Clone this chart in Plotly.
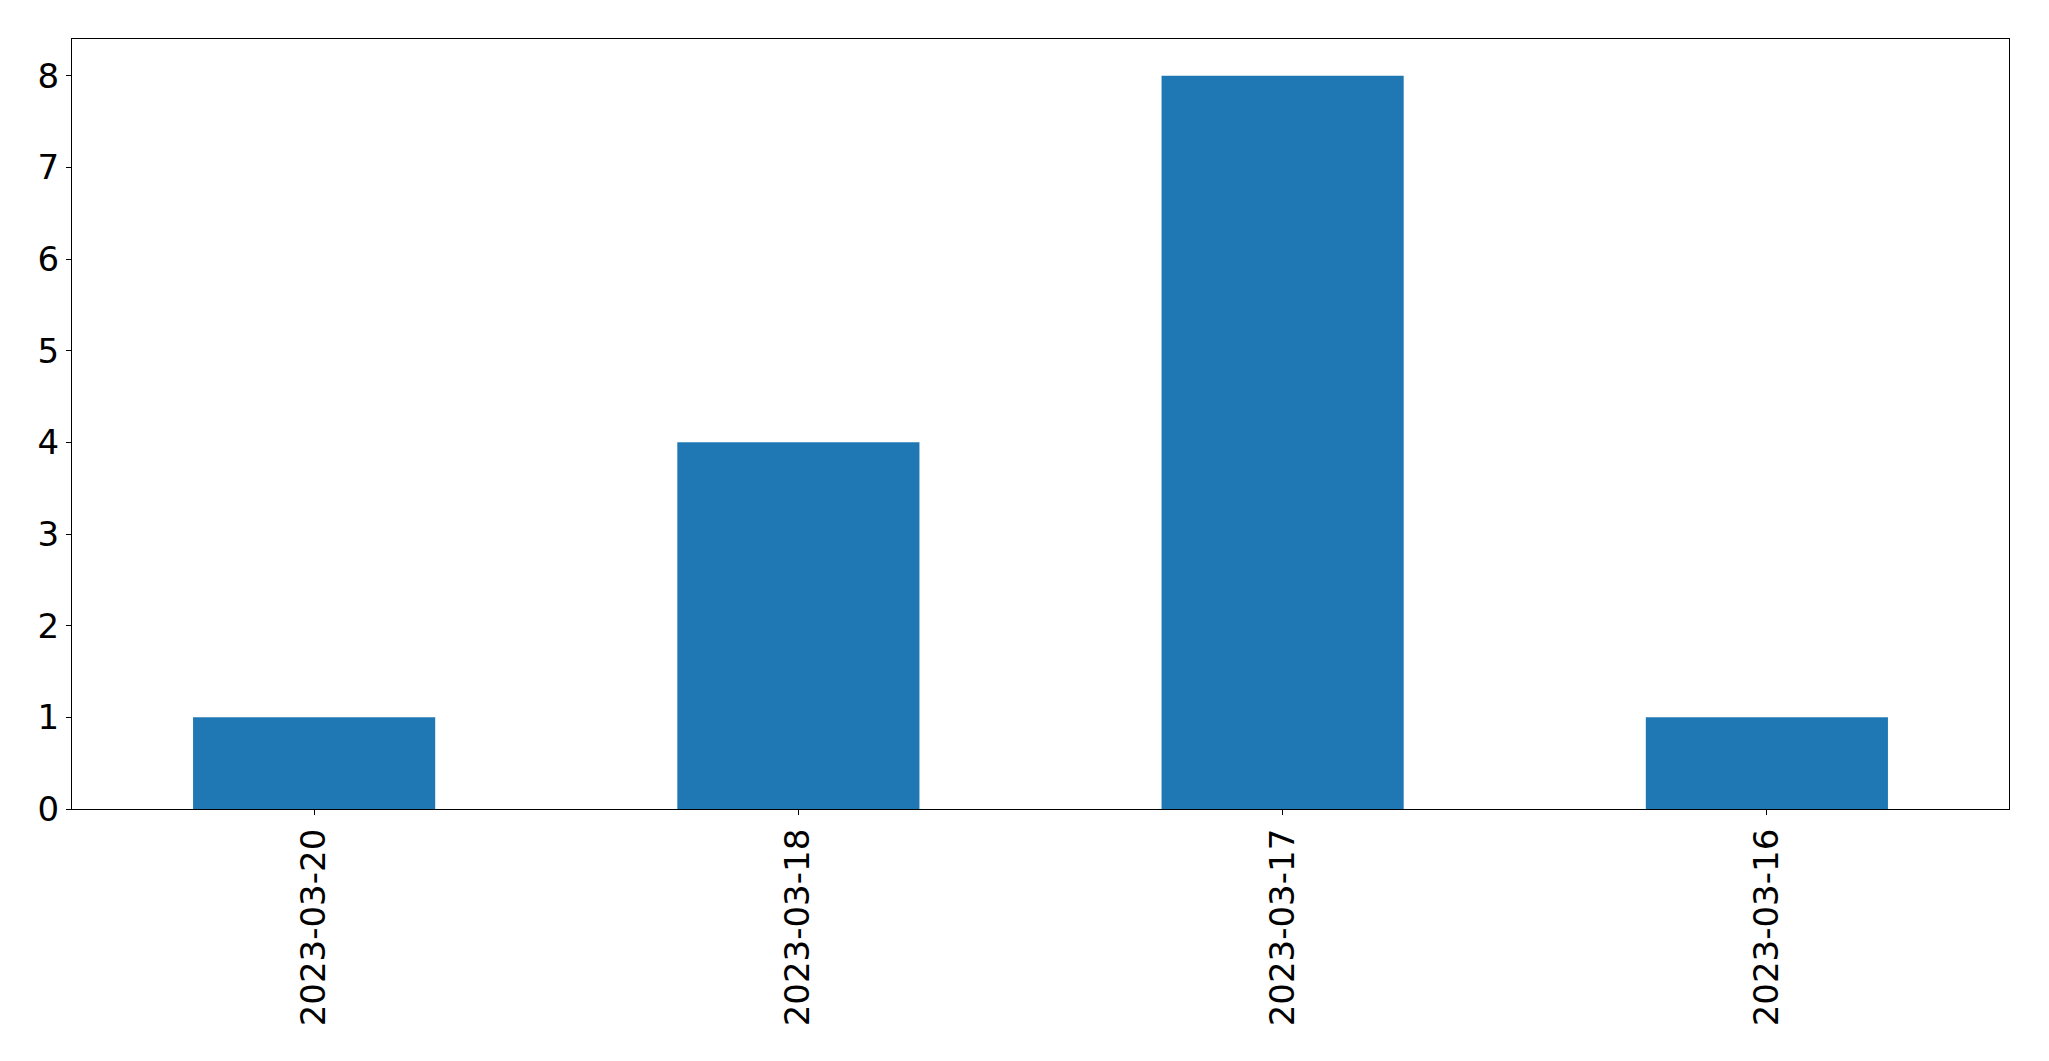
import plotly.graph_objects as go

categories = ["2023-03-20", "2023-03-18", "2023-03-17", "2023-03-16"]
counts = [1, 4, 8, 1]
y_ticks = [0, 1, 2, 3, 4, 5, 6, 7, 8]

fig = go.Figure(go.Bar(x=categories, y=counts, marker_color="#1f77b4",
                       marker_line_width=0, width=0.5))

# page body has an 8px default margin; compensate so the plot area lands at
# x 72..2009, y 39..809 of the 2049x1061 window
fig.update_layout(
    width=2041, height=1053,
    margin=dict(l=64, r=40, t=31, b=252),
    paper_bgcolor="white", plot_bgcolor="white",
    font=dict(family="DejaVu Sans", size=34, color="black"),
    showlegend=False,
)
fig.update_xaxes(type="category", range=[-0.5, 3.5], tickangle=-90,
                 showline=True, linecolor="black", linewidth=1.3, mirror=True,
                 ticks="outside", ticklen=5, tickwidth=1.3, tickcolor="black",
                 showgrid=False, zeroline=False)
fig.update_yaxes(range=[0, 8.4], tickvals=y_ticks,
                 showline=True, linecolor="black", linewidth=1.3, mirror=True,
                 ticks="outside", ticklen=5, tickwidth=1.3, tickcolor="black",
                 showgrid=False, zeroline=False)

fig.write_html("out.html")
